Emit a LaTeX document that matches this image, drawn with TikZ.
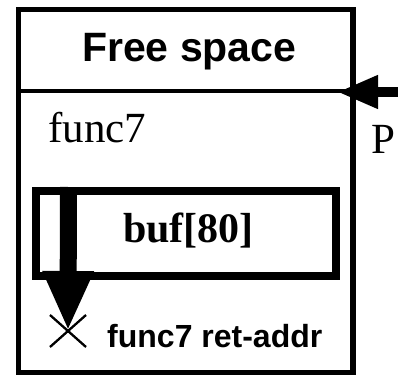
\documentclass[tikz,border=0pt]{standalone}
\usepackage{fontspec}
\setmainfont{Liberation Serif}
\setsansfont{Liberation Sans}
\usetikzlibrary{arrows.meta,calc}
\tikzset{
  txt/.style={inner sep=0pt, anchor=base west},
  frameline/.style={line width=5.5pt},
}
\begin{document}
\begin{tikzpicture}[x=1pt,y=-1pt]
\useasboundingbox (0,0) rectangle (398,377);
% stack frame outline and the free-space divider
\draw[frameline] (18.5,9.5) rectangle (353,372.5);
\coordinate (divL) at (18.5,91);
\coordinate (divR) at (353,91);
\draw[line width=4pt] (divL) -- (divR);
\node[txt, font=\sffamily\bfseries\fontsize{41}{48}\selectfont] (free) at (82,62) {Free space};
% local variables of func7
\node[txt, font=\fontsize{43}{50}\selectfont] (fname) at (48,142) {func7};
\node[txt, font=\fontsize{43}{50}\selectfont] (P) at (371,153) {P};
\draw[line width=8pt] (36,191) rectangle (336,276);
\coordinate (buftop) at (68.5,187);
\node[txt, font=\bfseries\fontsize{42}{50}\selectfont] (buf) at (123,242) {buf[80]};
% return address, overwritten
\coordinate (ret) at (68,331);
\draw[line width=2.3pt] ($(ret)+(-18,-16)$) -- ($(ret)+(18,16)$)
  ($(ret)+(-18,16)$) -- ($(ret)+(18,-16)$);
\node[txt, font=\sffamily\bfseries\fontsize{32}{40}\selectfont] (ra) at (107,347) {func7 ret-addr};
% pointer arrow and overflow arrow
\coordinate (pin) at (398,92);
\coordinate (ptip) at (337,92);
\draw[line width=10pt, -{Triangle[length=41pt,width=31pt]}] (pin) -- (ptip);
\draw[line width=17pt, -{Triangle[length=60pt,width=47pt]}] (buftop) -- (ret);
\end{tikzpicture}
\end{document}
